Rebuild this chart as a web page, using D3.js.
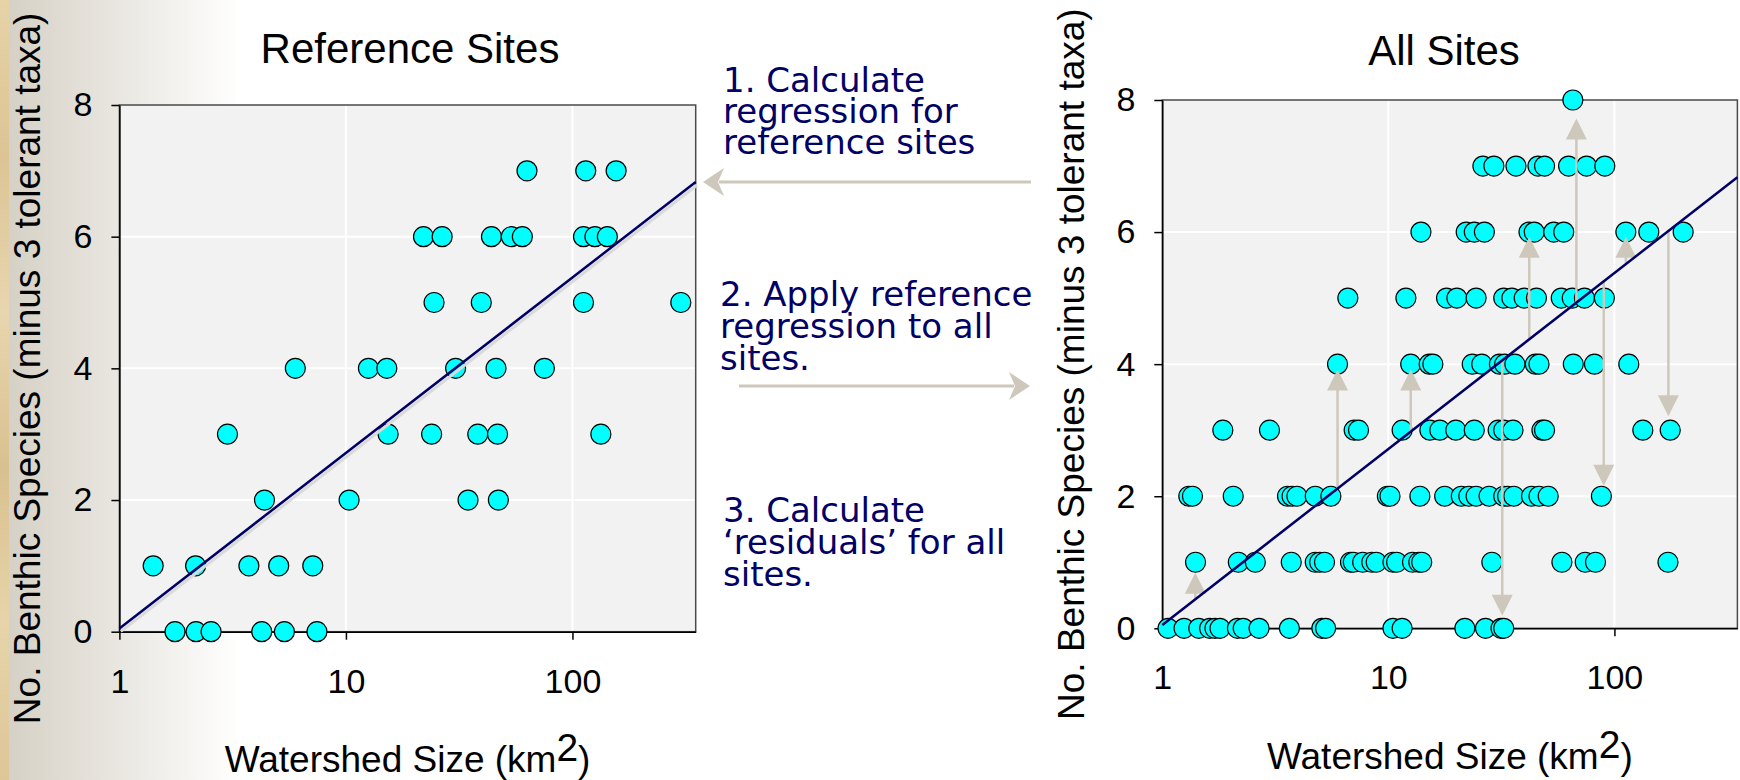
<!DOCTYPE html>
<html>
<head>
<meta charset="utf-8">
<script src="https://cdn.jsdelivr.net/npm/d3@7"></script>
<style>
  html, body { margin: 0; padding: 0; background: #ffffff; }
  svg { display: block; }
</style>
</head>
<body>
<svg id="chart" width="1740" height="780"></svg>
<script>
// ---------------- DATA ----------------
const yTicks = [0, 2, 4, 6, 8];
const xTicks = [1, 10, 100];
const xTickLabels = ["1", "10", "100"];
const xDomain = [1, 350];
const yDomain = [0, 8];

const panelTitles = ["Reference Sites", "All Sites"];
const yAxisTitle = "No. Benthic Species (minus 3 tolerant taxa)";
const xAxisTitle = "Watershed Size (km";
const xAxisTitleSup = "2";

// Reference sites (watershed km2, species)
const refX = [
  63.0, 114.5, 155.9,
  22.0, 26.6, 43.9, 53.7, 60.1, 111.9, 125.7, 142.6,
  24.5, 39.6, 111.9, 300.9,
  5.98, 12.57, 15.16, 30.5, 46.0, 75.2,
  3.0, 15.36, 23.9, 38.2, 46.7, 133.5,
  4.37, 10.33, 34.6, 47.1,
  1.41, 2.17, 3.73, 5.05, 7.14,
  1.76, 2.18, 2.54, 4.25, 5.35, 7.45
];
const refY = [
  7, 7, 7,
  6, 6, 6, 6, 6, 6, 6, 6,
  5, 5, 5, 5,
  4, 4, 4, 4, 4, 4,
  3, 3, 3, 3, 3, 3,
  2, 2, 2, 2,
  1, 1, 1, 1, 1,
  0, 0, 0, 0, 0, 0
];

// All sites
const allX = [
  65.5,
  26.2, 29.3, 36.7, 45.9, 49.1, 62.7, 75.3, 90.7,
  13.94, 22.1, 24.0, 26.6, 41.9, 44.2, 53.9, 59.7, 112.4, 142.0, 201.5,
  6.62, 11.96, 18.09, 20.1, 24.45, 32.4, 35.2, 39.9, 45.2, 58.2, 65.1, 73.7, 90.3,
  5.96, 12.56, 15.16, 15.74, 23.5, 25.9, 31.0, 32.7, 36.3, 44.7, 46.4, 65.8, 81.6, 115.8,
  1.853, 2.98, 7.06, 7.38, 11.51, 15.27, 16.9, 19.88, 24.0, 30.6, 32.4, 35.6, 47.8, 49.1, 133.6, 176.6,
  1.31, 1.36, 2.06, 3.58, 3.75, 3.94, 4.75, 5.57, 9.90, 10.17, 13.79, 17.75, 21.03, 22.7, 24.45, 27.9, 32.4, 33.7, 35.9, 43.0, 46.4, 50.95, 87.6,
  1.403, 2.17, 2.58, 3.72, 4.75, 4.97, 5.22, 6.80, 7.00, 7.70, 8.45, 8.84, 10.48, 10.88, 12.79, 13.64, 14.05, 28.7, 58.6, 74.3, 82.5, 172.6,
  1.06, 1.248, 1.45, 1.62, 1.71, 1.80, 2.15, 2.28, 2.68, 3.65, 5.08, 5.28, 10.48, 11.51, 21.8, 26.9, 31.5, 32.4
];
const allY = [
  8,
  7, 7, 7, 7, 7, 7, 7, 7,
  6, 6, 6, 6, 6, 6, 6, 6, 6, 6, 6,
  5, 5, 5, 5, 5, 5, 5, 5, 5, 5, 5, 5, 5,
  4, 4, 4, 4, 4, 4, 4, 4, 4, 4, 4, 4, 4, 4,
  3, 3, 3, 3, 3, 3, 3, 3, 3, 3, 3, 3, 3, 3, 3, 3,
  2, 2, 2, 2, 2, 2, 2, 2, 2, 2, 2, 2, 2, 2, 2, 2, 2, 2, 2, 2, 2, 2, 2,
  1, 1, 1, 1, 1, 1, 1, 1, 1, 1, 1, 1, 1, 1, 1, 1, 1, 1, 1, 1, 1, 1,
  0, 0, 0, 0, 0, 0, 0, 0, 0, 0, 0, 0, 0, 0, 0, 0, 0, 0
];

// Regression of species on log10(watershed) from reference sites
const regIntercept = 0.05;
const regSlope = 2.665;

// Residual arrows on "All Sites": x position, arrow-tip value
const residX   = [1.40, 5.96, 12.56, 31.9, 42.0, 67.9, 89.7, 112.4, 173.3];
const residTip = [0.84, 3.92, 3.92, 0.19, 5.93, 7.72, 2.16, 5.93, 3.21];

const notes = [
  ["1. Calculate", "regression for", "reference sites"],
  ["2. Apply reference", "regression to all", "sites."],
  ["3. Calculate", "\u2018residuals\u2019 for all", "sites."]
];

// ---------------- DRAWING ----------------
const svg = d3.select("#chart");
const FONT = "'Liberation Sans', Arial, Helvetica, sans-serif";
const NAVY = "#000066";
const ARROW = "#cdc8bb";

// slide background: marble strip + gradient
const defs = svg.append("defs");
const grad = defs.append("linearGradient").attr("id", "bgGrad")
  .attr("x1", "0").attr("x2", "1").attr("y1", "0").attr("y2", "0");
grad.append("stop").attr("offset", "0%").attr("stop-color", "#d6d1c6");
grad.append("stop").attr("offset", "100%").attr("stop-color", "#ffffff");
svg.append("rect").attr("x", 0).attr("y", 0).attr("width", 1740).attr("height", 780).attr("fill", "#ffffff");
svg.append("rect").attr("x", 9).attr("y", 0).attr("width", 232).attr("height", 780).attr("fill", "url(#bgGrad)");
const marble = defs.append("linearGradient").attr("id", "marble")
  .attr("x1", "0").attr("x2", "0").attr("y1", "0").attr("y2", "1");
[["0%", "#e6d3a8"], ["20%", "#dcc494"], ["40%", "#e8d6b0"], ["60%", "#d9c08f"], ["80%", "#e7d4aa"], ["100%", "#ddc698"]]
  .forEach(s => marble.append("stop").attr("offset", s[0]).attr("stop-color", s[1]));
svg.append("rect").attr("x", 0).attr("y", 0).attr("width", 9).attr("height", 780).attr("fill", "url(#marble)");

const regFn = v => regIntercept + regSlope * Math.log10(v);

function drawPanel(opt) {
  const g = svg.append("g");
  const x = d3.scaleLog().domain(xDomain).range([opt.x0, opt.x1]);
  const y = d3.scaleLinear().domain(yDomain).range([opt.y0, opt.y1]);

  g.append("rect")
    .attr("x", opt.x0).attr("y", opt.y1)
    .attr("width", opt.x1 - opt.x0).attr("height", opt.y0 - opt.y1)
    .attr("fill", "#f2f2f2");

  g.selectAll("line.gx").data(xTicks.slice(1)).join("line").attr("class", "gx")
    .attr("x1", d => x(d)).attr("x2", d => x(d))
    .attr("y1", opt.y1).attr("y2", opt.y0)
    .attr("stroke", "#ffffff").attr("stroke-width", 2);
  g.selectAll("line.gy").data(yTicks.slice(1, -1)).join("line").attr("class", "gy")
    .attr("x1", opt.x0).attr("x2", opt.x1)
    .attr("y1", d => y(d)).attr("y2", d => y(d))
    .attr("stroke", "#ffffff").attr("stroke-width", 2);

  g.append("rect")
    .attr("x", opt.x0).attr("y", opt.y1)
    .attr("width", opt.x1 - opt.x0).attr("height", opt.y0 - opt.y1)
    .attr("fill", "none").attr("stroke", "#4a4a4a").attr("stroke-width", 1.5);

  const xAxis = d3.axisBottom(x).tickValues(xTicks)
    .tickFormat((d, i) => xTickLabels[i]).tickSize(8).tickSizeOuter(0).tickPadding(29);
  const gx = g.append("g").attr("transform", `translate(0,${opt.y0})`).call(xAxis);
  const yAxis = d3.axisLeft(y).tickValues(yTicks).tickSize(8).tickSizeOuter(0).tickPadding(19);
  const gy = g.append("g").attr("transform", `translate(${opt.x0},0)`).call(yAxis);
  [gx, gy].forEach(a => {
    a.select(".domain").attr("stroke", "#000").attr("stroke-width", 1.5);
    a.selectAll(".tick line").attr("stroke", "#000").attr("stroke-width", 1.5);
    a.selectAll(".tick text").attr("font-family", FONT).attr("font-size", 34).attr("fill", "#000");
  });

  // points
  g.selectAll("circle.pt").data(opt.xs.map((v, i) => [v, opt.ys[i]])).join("circle").attr("class", "pt")
    .attr("cx", d => x(d[0])).attr("cy", d => y(d[1])).attr("r", 10)
    .attr("fill", "#00ffff").attr("stroke", "#000").attr("stroke-width", 1.2);

  // residual arrows
  if (opt.resid) {
    residX.forEach((rx, i) => {
      const px = x(rx);
      const ys = y(regFn(rx));
      const yt = y(residTip[i]);
      const dir = yt > ys ? 1 : -1;
      g.append("line").attr("x1", px).attr("x2", px)
        .attr("y1", ys).attr("y2", yt - dir * 18)
        .attr("stroke", ARROW).attr("stroke-width", 2.5);
      g.append("path")
        .attr("d", `M${px},${yt} L${px - 10.5},${yt - dir * 21} L${px + 10.5},${yt - dir * 21} Z`)
        .attr("fill", ARROW);
    });
  }

  // regression line
  const line = d3.line().x(d => x(d)).y(d => y(regFn(d)));
  if (opt.shadow) {
    g.append("path").datum(xDomain).attr("d", line)
      .attr("transform", "translate(1.5,3)")
      .attr("fill", "none").attr("stroke", "#dadada").attr("stroke-width", 3);
  }
  g.append("path").datum(xDomain).attr("d", line)
    .attr("fill", "none").attr("stroke", NAVY).attr("stroke-width", 2.5);

  // titles
  g.append("text").attr("x", opt.titleX).attr("y", opt.titleY)
    .attr("text-anchor", "middle").attr("font-family", FONT).attr("font-size", 42)
    .text(opt.title);

  const xt = g.append("text").attr("x", (opt.x0 + opt.x1) / 2).attr("y", opt.xLabelY)
    .attr("text-anchor", "middle").attr("font-family", FONT).attr("font-size", 37);
  xt.append("tspan").text(xAxisTitle);
  xt.append("tspan").attr("dy", -11).attr("font-size", 39).text(xAxisTitleSup);
  xt.append("tspan").attr("dy", 11).text(")");

  g.append("text")
    .attr("transform", `translate(${opt.yLabelX},${(opt.y0 + opt.y1) / 2}) rotate(-90)`)
    .attr("text-anchor", "middle").attr("font-family", FONT).attr("font-size", 37)
    .text(yAxisTitle);

  return { x, y };
}

const left = drawPanel({
  x0: 119.4, x1: 695.7, y0: 631.7, y1: 105,
  xs: refX, ys: refY, title: panelTitles[0], titleX: 410, titleY: 63,
  xLabelY: 772, yLabelX: 40, resid: false, shadow: true
});
drawPanel({
  x0: 1162.3, x1: 1737.4, y0: 628.3, y1: 100,
  xs: allX, ys: allY, title: panelTitles[1], titleX: 1444, titleY: 65,
  xLabelY: 769, yLabelX: 1084, resid: true, shadow: false
});

// annotations
const noteFont = "'Comic Sans MS', 'DejaVu Sans', sans-serif";
const noteBlocks = [
  { x: 723, y: 92, dy: 31 },
  { x: 720, y: 306, dy: 32 },
  { x: 723, y: 522, dy: 32 }
];
notes.forEach((lines, i) => {
  const b = noteBlocks[i];
  const t = svg.append("text").attr("font-family", noteFont).attr("font-size", 34).attr("fill", NAVY);
  lines.forEach((ln, j) => {
    t.append("tspan").attr("x", b.x).attr("y", b.y + j * b.dy).text(ln);
  });
});

// horizontal explanatory arrows
function hArrow(xFrom, xTip, yy) {
  const dir = xTip < xFrom ? -1 : 1;
  svg.append("line").attr("x1", xFrom).attr("x2", xTip - dir * 16).attr("y1", yy).attr("y2", yy)
    .attr("stroke", ARROW).attr("stroke-width", 3);
  svg.append("path")
    .attr("d", `M${xTip},${yy} L${xTip - dir * 21},${yy - 14} L${xTip - dir * 15},${yy} L${xTip - dir * 21},${yy + 14} Z`)
    .attr("fill", ARROW);
}
hArrow(1031, 703, left.y(regFn(xDomain[1])));
hArrow(739, 1030, 386);
</script>
</body>
</html>
